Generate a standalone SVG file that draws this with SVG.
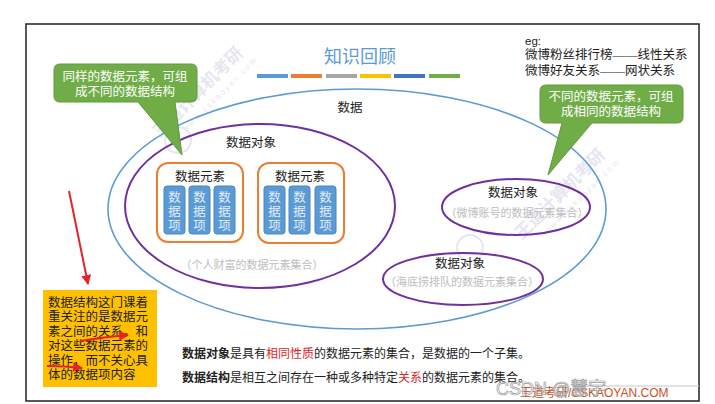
<svg xmlns="http://www.w3.org/2000/svg" width="715" height="404" viewBox="0 0 715 404">
<defs>
<marker id="ah" viewBox="0 0 10 10" refX="9" refY="5" markerWidth="5" markerHeight="5" orient="auto-start-reverse" markerUnits="strokeWidth">
<path d="M0,0 L10,5 L0,10 z" fill="#e8222a"/>
</marker>
<style>
.cn{font-family:"Liberation Serif","Noto Sans CJK SC",serif;}
.sn{font-family:"Noto Sans CJK SC","Liberation Sans",sans-serif;}
.lbl{font-size:12.5px;fill:#222;text-anchor:middle;}
.sub{font-size:11px;fill:#bdbdbd;text-anchor:middle;}
.item rect{fill:#5b9bd5;stroke:#4a86c0;stroke-width:1;}
.item text{font-size:12.5px;fill:#e3ecf7;text-anchor:middle;}
.elem{fill:none;stroke:#ed7d31;stroke-width:2;}
.obj{fill:none;stroke:#7030a0;stroke-width:2;}
.call{fill:#70ad47;stroke:#62993e;stroke-width:1;}
.callt{font-size:12.5px;fill:#fff;text-anchor:middle;}
.red{stroke:#e8222a;stroke-width:2;fill:none;}
.body{font-size:12px;fill:#222;}
.wm{font-family:"Noto Sans CJK SC",sans-serif;font-weight:bold;fill:#e6e6f0;}
.wm2{font-family:"Liberation Sans",sans-serif;fill:#e8e8f0;}
</style>
</defs>
<rect width="715" height="404" fill="#fff"/>
<rect x="26" y="24" width="673" height="377" fill="#fff" stroke="#222" stroke-width="1.5"/>

<g id="wmarks">
<text class="wm" x="0" y="0" font-size="17" transform="translate(160,138) rotate(-45)">王道计算机考研</text>
<text class="wm2" x="0" y="0" font-size="8" letter-spacing="2" transform="translate(186,132) rotate(-45)">www.cskaoyan.com</text>
<text class="wm" x="0" y="0" font-size="17" transform="translate(522,240) rotate(-45)">王道计算机考研</text>
<text class="wm2" x="0" y="0" font-size="8" letter-spacing="2" transform="translate(548,234) rotate(-45)">www.cskaoyan.com</text>
<circle cx="178" cy="140" r="13" fill="none" stroke="#e6e6f0" stroke-width="2"/>
<circle cx="470" cy="248" r="13" fill="none" stroke="#e6e6f0" stroke-width="2"/>
</g>

<g id="title">
<text class="sn" x="360" y="63" font-size="18" fill="#5b9bd5" text-anchor="middle">知识回顾</text>
<rect x="257" y="74" width="31" height="4" fill="#5b9bd5"/>
<rect x="291" y="74" width="31" height="4" fill="#ed7d31"/>
<rect x="326" y="74" width="31" height="4" fill="#a5a5a5"/>
<rect x="360" y="74" width="31" height="4" fill="#ffc000"/>
<rect x="394" y="74" width="31" height="4" fill="#4472c4"/>
<rect x="429" y="74" width="31" height="4" fill="#70ad47"/>
</g>

<g id="eg" class="cn" font-size="12.5" fill="#222">
<text x="525" y="45" font-family="Liberation Sans, sans-serif" font-size="11.5">eg:</text>
<text x="525" y="59">微博粉丝排行榜——线性关系</text>
<text x="525" y="75">微博好友关系——网状关系</text>
</g>

<g id="data">
<ellipse cx="357" cy="209" rx="249" ry="120" fill="none" stroke="#5b9bd5" stroke-width="1.6"/>
<text class="cn lbl" x="350" y="112">数据</text>
</g>

<g id="obj1">
<ellipse class="obj" cx="260" cy="206" rx="135" ry="82"/>
<text class="cn lbl" x="251" y="147">数据对象</text>
<text class="cn sub" x="252" y="269">（个人财富的数据元素集合）</text>
</g>

<g id="elem1">
<rect class="elem" x="157" y="163" width="86" height="79" rx="11"/>
<text class="cn lbl" x="200" y="181">数据元素</text>
<g class="item cn"><rect x="164" y="186" width="21" height="48" rx="3"/><text x="174.5" y="202">数</text><text x="174.5" y="216">据</text><text x="174.5" y="230">项</text></g>
<g class="item cn"><rect x="189" y="186" width="21" height="48" rx="3"/><text x="199.5" y="202">数</text><text x="199.5" y="216">据</text><text x="199.5" y="230">项</text></g>
<g class="item cn"><rect x="214" y="186" width="21" height="48" rx="3"/><text x="224.5" y="202">数</text><text x="224.5" y="216">据</text><text x="224.5" y="230">项</text></g>
</g>

<g id="elem2">
<rect class="elem" x="258" y="163" width="86" height="80" rx="11"/>
<text class="cn lbl" x="300" y="181">数据元素</text>
<g class="item cn"><rect x="264" y="186" width="21" height="48" rx="3"/><text x="274.5" y="202">数</text><text x="274.5" y="216">据</text><text x="274.5" y="230">项</text></g>
<g class="item cn"><rect x="289" y="186" width="21" height="48" rx="3"/><text x="299.5" y="202">数</text><text x="299.5" y="216">据</text><text x="299.5" y="230">项</text></g>
<g class="item cn"><rect x="315" y="186" width="21" height="48" rx="3"/><text x="325.5" y="202">数</text><text x="325.5" y="216">据</text><text x="325.5" y="230">项</text></g>
</g>

<g id="obj2">
<ellipse class="obj" cx="516" cy="207" rx="74" ry="28"/>
<text class="cn lbl" x="513" y="197">数据对象</text>
<text class="cn sub" x="517" y="217">（微博账号的数据元素集合）</text>
</g>

<g id="obj3">
<ellipse class="obj" cx="463" cy="279" rx="80" ry="26"/>
<text class="cn lbl" x="460" y="268">数据对象</text>
<text class="cn sub" x="462" y="286">（海底捞排队的数据元素集合）</text>
</g>

<g id="callout1">
<path class="call" d="M60,64 H191 Q197,64 197,70 V96 Q197,102 191,102 H175 L182,155 L138,102 H60 Q54,102 54,96 V70 Q54,64 60,64 Z"/>
<text class="sn callt" x="125" y="81">同样的数据元素，可组</text>
<text class="sn callt" x="125" y="96">成不同的数据结构</text>
</g>

<g id="callout2">
<path class="call" d="M546,85 H677 Q683,85 683,91 V117 Q683,123 677,123 H592 L548,175 L562,123 H546 Q540,123 540,117 V91 Q540,85 546,85 Z"/>
<text class="sn callt" x="611" y="101">不同的数据元素，可组</text>
<text class="sn callt" x="611" y="116">成相同的数据结构</text>
</g>

<g id="note">
<rect x="43" y="290" width="114" height="97" fill="#ffc000"/>
<g class="cn" font-size="12.5" fill="#222">
<text x="48" y="307">数据结构这门课着</text>
<text x="48" y="321">重关注的是数据元</text>
<text x="48" y="336">素之间的关系，和</text>
<text x="48" y="350">对这些数据元素的</text>
<text x="48" y="365">操作，而不关心具</text>
<text x="48" y="379">体的数据项内容</text>
</g>
</g>

<g id="connectors">
<line class="red" x1="69" y1="191" x2="88" y2="284" marker-end="url(#ah)"/>
<path class="red" d="M80,341 Q104,337 128,335" marker-end="url(#ah)"/>
<path class="red" d="M47,366 Q65,366 82,368" marker-end="url(#ah)"/>
</g>

<g id="defs-text" class="cn body">
<text x="182" y="358"><tspan font-weight="bold">数据对象</tspan>是具有<tspan fill="#d9262a">相同性质</tspan>的数据元素的集合，是数据的一个子集。</text>
<text x="182" y="382"><tspan font-weight="bold">数据结构</tspan>是相互之间存在一种或多种特定<tspan fill="#d9262a">关系</tspan>的数据元素的集合。</text>
</g>

<g id="watermark">
<line x1="575" y1="386" x2="699" y2="386" stroke="#c8c8c8" stroke-width="1"/>
<text x="520" y="397" font-family="Liberation Sans, Noto Sans CJK SC, sans-serif" font-size="12" fill="#c8501e">王道考研/CSKAOYAN.COM</text>
<text x="496" y="395" font-family="Liberation Sans, Noto Sans CJK SC, sans-serif" font-size="18" fill="#ffffff" fill-opacity="0.4" stroke="#9a9a9a" stroke-width="0.7">CSDN @慧宇</text>
</g>
</svg>
